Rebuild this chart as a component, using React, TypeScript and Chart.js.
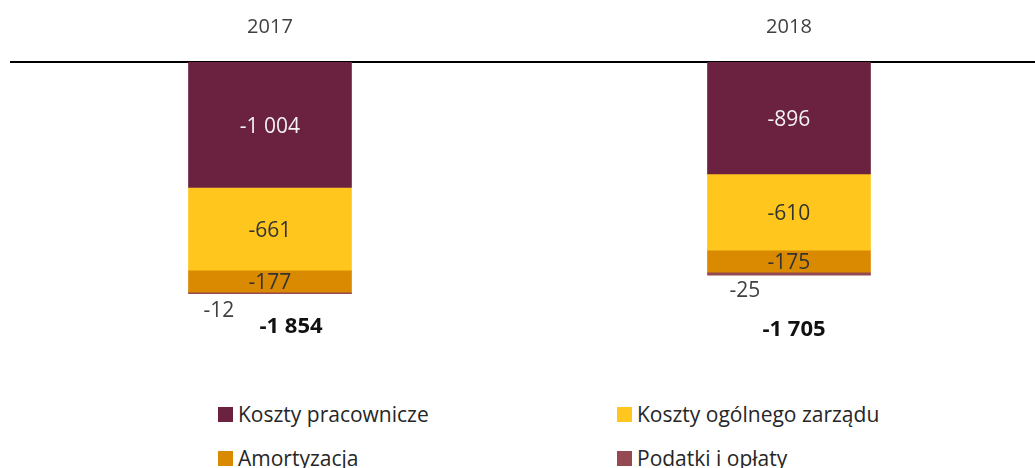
import React, { useEffect, useRef } from "react";
import { Chart, registerables } from "chart.js";

Chart.register(...registerables);

// ---- data ----
const years = ["2017", "2018"];
const seriesNames = [
  "Koszty pracownicze",
  "Koszty ogólnego zarządu",
  "Amortyzacja",
  "Podatki i opłaty",
];
const kosztyPracownicze = [-1004, -896];
const kosztyOgolnegoZarzadu = [-661, -610];
const amortyzacja = [-177, -175];
const podatkiIOplaty = [-12, -25];
const totals = [-1854, -1705];

const seriesValues = [kosztyPracownicze, kosztyOgolnegoZarzadu, amortyzacja, podatkiIOplaty];
const seriesColors = ["#6B2140", "#FFC61E", "#D98A00", "#944A50"];
const labelColors = ["#F2F2F2", "#333333", "#333333", "#404040"];

// label placement tweaks (pixels, relative to bar)
const smallLabelOffsets = [
  [-51, 17],
  [-44, 16],
];
const totalLabelOffsets = [
  [21, 33],
  [5, 54],
];

const FONT = "'Open Sans', 'Noto Sans', sans-serif";

function fmt(n: number): string {
  const s = Math.abs(Math.round(n)).toString().replace(/\B(?=(\d{3})+(?!\d))/g, " ");
  return (n < 0 ? "-" : "") + s;
}

const labelPlugin = {
  id: "valueLabels",
  afterDatasetsDraw(chart: any) {
    const ctx = chart.ctx;
    ctx.save();
    ctx.textAlign = "center";
    ctx.textBaseline = "middle";
    const bottoms: number[] = [];
    chart.data.datasets.forEach((ds: any, di: number) => {
      const meta = chart.getDatasetMeta(di);
      meta.data.forEach((bar: any, i: number) => {
        const v = seriesValues[di][i];
        const p = bar.getProps(["x", "y", "base"], true);
        const lo = Math.max(p.y, p.base);
        bottoms[i] = Math.max(bottoms[i] ?? 0, lo);
        ctx.font = `21px ${FONT}`;
        ctx.fillStyle = labelColors[di];
        if (di === 3) {
          const [ox, oy] = smallLabelOffsets[i];
          ctx.fillText(fmt(v), p.x + ox, lo + oy);
        } else {
          ctx.fillText(fmt(v), p.x, (p.y + p.base) / 2 + 2);
        }
      });
    });
    const meta0 = chart.getDatasetMeta(0);
    meta0.data.forEach((bar: any, i: number) => {
      const [ox, oy] = totalLabelOffsets[i];
      ctx.font = `bold 22px ${FONT}`;
      ctx.fillStyle = "#111111";
      ctx.fillText(fmt(totals[i]), bar.x + ox, bottoms[i] + oy);
    });
    ctx.restore();
  },
};

export default function App() {
  const ref = useRef<HTMLCanvasElement>(null);
  useEffect(() => {
    if (!ref.current) return;
    const chart = new Chart(ref.current, {
      type: "bar",
      data: {
        datasets: seriesValues.map((vals, di) => ({
          label: seriesNames[di],
          data: vals.map((v, i) => ({ x: i, y: v })),
          backgroundColor: seriesColors[di],
          borderWidth: 0,
          barThickness: 163,
        })),
      },
      options: {
        responsive: false,
        animation: false,
        layout: { padding: { left: 11, right: 0, top: 0, bottom: 0 } },
        plugins: {
          legend: { display: false },
          tooltip: { enabled: false },
        },
        scales: {
          x: {
            type: "linear",
            position: "top",
            stacked: true,
            offset: false,
            min: -0.499,
            max: 1.474,
            grid: { display: false, offset: false },
            border: { display: true, color: "#000000", width: 2 },
            afterBuildTicks: (scale: any) => {
              scale.ticks = years.map((_, i) => ({ value: i }));
            },
            afterFit: (scale: any) => {
              scale.height = 62;
            },
            ticks: {
              padding: 15,
              font: { size: 20, family: FONT },
              color: "#404040",
              callback: (v: any) => years[v as number] ?? "",
            },
          },
          y: {
            stacked: true,
            display: false,
            min: -2544,
            max: 0,
          },
        },
      },
      plugins: [labelPlugin],
    } as any);
    return () => chart.destroy();
  }, []);

  const legendItems = [
    { i: 0, left: 218, top: 402 },
    { i: 1, left: 617, top: 402 },
    { i: 2, left: 218, top: 446 },
    { i: 3, left: 617, top: 446 },
  ];

  return (
    <div
      style={{
        position: "fixed",
        left: 0,
        top: 0,
        width: 1035,
        height: 468,
        background: "#fff",
        overflow: "hidden",
      }}
    >
      <canvas ref={ref} width={1035} height={380} style={{ position: "absolute", left: 0, top: 0 }} />
      {legendItems.map(({ i, left, top }) => (
        <div
          key={i}
          style={{
            position: "absolute",
            left,
            top,
            height: 24,
            display: "flex",
            alignItems: "center",
            fontFamily: FONT,
            fontSize: 21,
            color: "#262626",
            whiteSpace: "nowrap",
          }}
        >
          <span
            style={{
              display: "inline-block",
              width: 15,
              height: 15,
              background: seriesColors[i],
              marginRight: 5,
            }}
          />
          <span>{seriesNames[i]}</span>
        </div>
      ))}
    </div>
  );
}
